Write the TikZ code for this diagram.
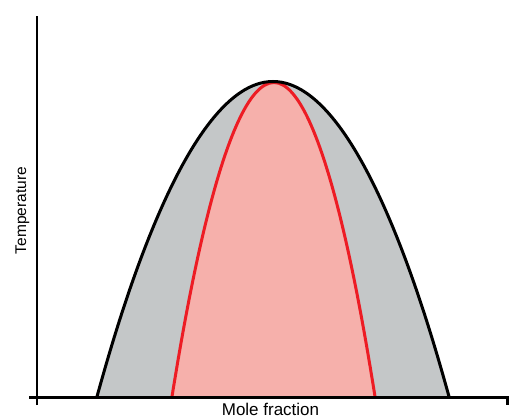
\documentclass[tikz,border=0pt]{standalone}
\usepackage{fontspec}
\setmainfont{Liberation Sans}
\definecolor{bandgrey}{HTML}{C4C7C8}
\definecolor{corepink}{HTML}{F6B0AB}
\definecolor{curvered}{HTML}{ED1C24}

\begin{document}
\begin{tikzpicture}[x=1pt,y=1pt,
axis/.style={line width=2.5pt},
outercurve/.style={line width=3pt,black},
innercurve/.style={line width=3pt,curvered},
axislabel/.style={inner sep=0pt} ]

\useasboundingbox (0,0) rectangle (509,418);

\coordinate (ybottom) at (37,13);
\coordinate (ytop) at (37,402);
\coordinate (xleft) at (29,20.5);
\coordinate (xright) at (507.5,20.5);
\coordinate (xtick) at (507.5,13);

\coordinate (vapL) at (97,21.5);
\coordinate (vapTop) at (273,336.5);
\coordinate (vapR) at (449,21.5);
\coordinate (liqL) at (172,21.5);
\coordinate (liqTop) at (274,335.5);
\coordinate (liqR) at (375,21.5);

% two-phase region
\fill[bandgrey] (vapL) parabola bend (vapTop) (vapR) -- cycle;
\fill[corepink] (liqL) parabola bend (liqTop) (liqR) -- cycle;
\draw[innercurve] (liqL) parabola bend (liqTop) (liqR);
\draw[outercurve] (vapL) parabola bend (vapTop) (vapR);

% axes
\draw[axis] (ybottom) -- (ytop);
\draw[axis] (xleft) -- (xright) -- (xtick);

\node[axislabel, anchor=base, font=\fontsize{17}{20}\selectfont] (xlabel) at (270.5,3) {Mole fraction};
\node[axislabel, anchor=base, rotate=90, font=\fontsize{15.5}{18}\selectfont] (ylabel) at (26,207.5) {Temperature};

\end{tikzpicture}
\end{document}
